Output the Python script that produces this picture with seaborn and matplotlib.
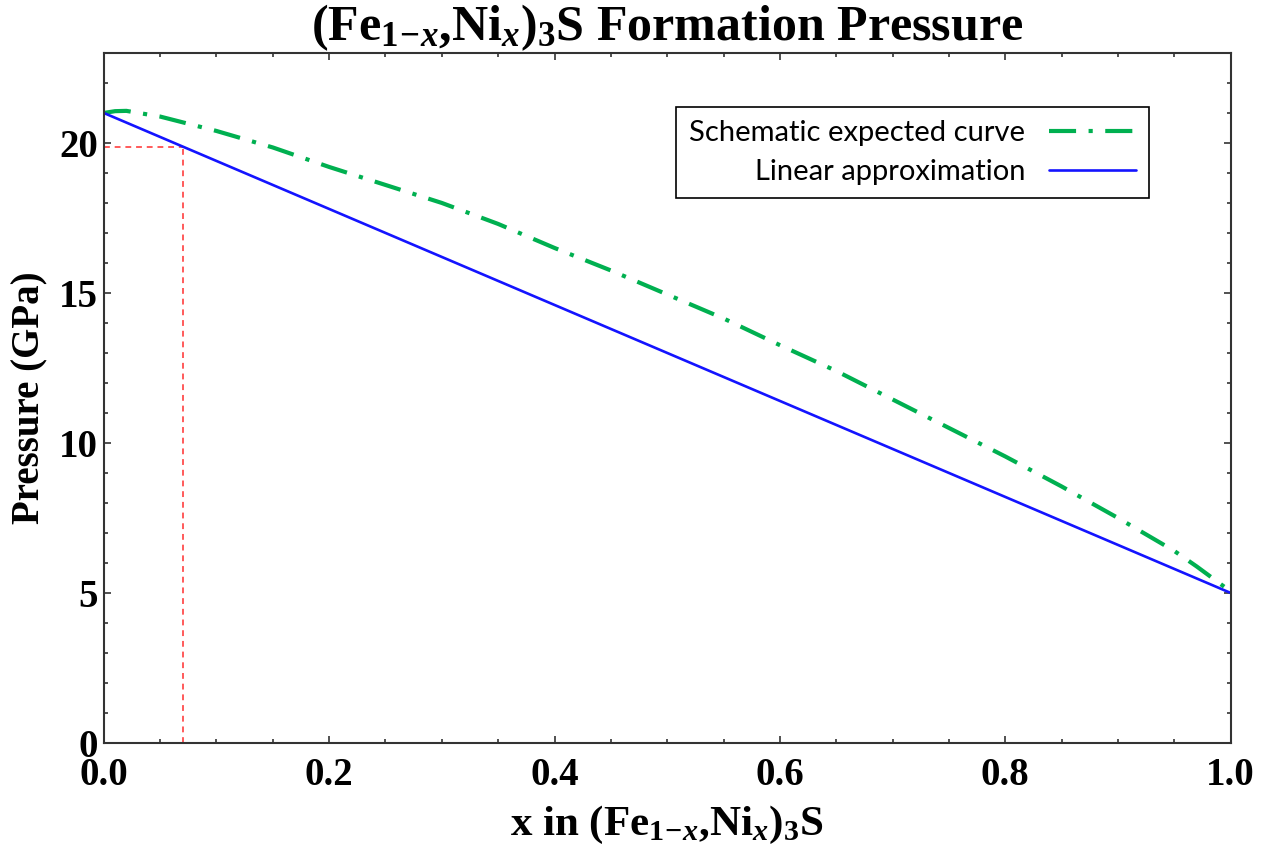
import matplotlib
matplotlib.use('Agg')
import matplotlib.pyplot as plt
import pandas as pd
import seaborn as sns
from matplotlib.ticker import MultipleLocator, FormatStrFormatter

# values
x_curve = [0.0, 0.01, 0.02, 0.05, 0.1, 0.15, 0.2, 0.25, 0.3, 0.35, 0.4, 0.45,
           0.5, 0.55, 0.6, 0.65, 0.7, 0.75, 0.8, 0.85, 0.9, 0.95, 0.97, 1.0]
p_curve = [21.0, 21.06, 21.07, 20.88, 20.4, 19.85, 19.2, 18.6, 18.0, 17.3, 16.5, 15.75,
           14.95, 14.15, 13.26, 12.4, 11.45, 10.5, 9.55, 8.55, 7.5, 6.4, 5.88, 5.05]
x_linear = [0.0, 1.0]
p_linear = [21.0, 5.0]
x_mark = 0.07
p_mark = 19.88

label_curve = 'Schematic expected curve'
label_linear = 'Linear approximation'

sns.set_style('ticks')
plt.rcParams['font.family'] = ['Liberation Serif', 'DejaVu Serif']
plt.rcParams['text.color'] = 'black'
plt.rcParams['axes.labelcolor'] = 'black'
plt.rcParams['xtick.color'] = 'black'
plt.rcParams['ytick.color'] = 'black'
plt.rcParams['mathtext.fontset'] = 'custom'
plt.rcParams['mathtext.rm'] = 'Liberation Serif:bold'
plt.rcParams['mathtext.it'] = 'Liberation Serif:italic:bold'
plt.rcParams['mathtext.bf'] = 'Liberation Serif:bold'

df_curve = pd.DataFrame({'x': x_curve, 'p': p_curve})
df_linear = pd.DataFrame({'x': x_linear, 'p': p_linear})

fig, ax = plt.subplots(figsize=(12.66, 8.49), dpi=100)
fig.subplots_adjust(left=0.082, right=0.972, bottom=0.125, top=0.9376)

# red guide lines
ax.plot([0, x_mark], [p_mark, p_mark], color='#ff5a5a', lw=1.4, ls=(0, (3, 2.5)))
ax.plot([x_mark, x_mark], [0, p_mark], color='#ff5a5a', lw=1.4, ls=(0, (3, 2.5)))

sns.lineplot(data=df_curve, x='x', y='p', ax=ax, color='#00b050', lw=3,
             linestyle=(0, (6.5, 3, 1, 3)), label=label_curve)
sns.lineplot(data=df_linear, x='x', y='p', ax=ax, color='#1414ff', lw=1.9,
             label=label_linear)

ax.set_xlim(0, 1)
ax.set_ylim(0, 23)
ax.xaxis.set_major_locator(MultipleLocator(0.2))
ax.xaxis.set_minor_locator(MultipleLocator(0.05))
ax.yaxis.set_major_locator(MultipleLocator(5))
ax.yaxis.set_minor_locator(MultipleLocator(1))
ax.xaxis.set_major_formatter(FormatStrFormatter('%.1f'))
ax.tick_params(which='both', direction='in', top=True, right=True,
               color='#333333', width=1.2)
ax.tick_params(which='major', length=5)
ax.tick_params(which='minor', length=3)
ax.tick_params(axis='x', which='major', pad=10)
ax.tick_params(axis='y', which='major', pad=4)
for lab in ax.get_xticklabels() + ax.get_yticklabels():
    lab.set_fontsize(28)
    lab.set_fontweight('bold')
for sp in ax.spines.values():
    sp.set_color('#333333')
    sp.set_linewidth(1.5)

ax.set_title(r'(Fe$_{1\!-\!x}$,Ni$_{x}$)$_{3}$S Formation Pressure',
             fontsize=36, fontweight='bold', pad=4)
ax.set_xlabel(r'x in (Fe$_{1\!-\!x}$,Ni$_{x}$)$_{3}$S', fontsize=31,
              fontweight='bold', labelpad=7)
ax.set_ylabel('Pressure (GPa)', fontsize=28, fontweight='bold', labelpad=8)

leg = ax.legend(loc='upper right', bbox_to_anchor=(0.928, 0.922),
                borderaxespad=0, markerfirst=False, handlelength=3.0,
                fancybox=False, framealpha=1, edgecolor='black',
                prop={'family': 'Lato', 'size': 21}, borderpad=0.45,
                labelspacing=0.45)
leg.get_frame().set_linewidth(1.2)

fig.savefig('out.png', dpi=100)
